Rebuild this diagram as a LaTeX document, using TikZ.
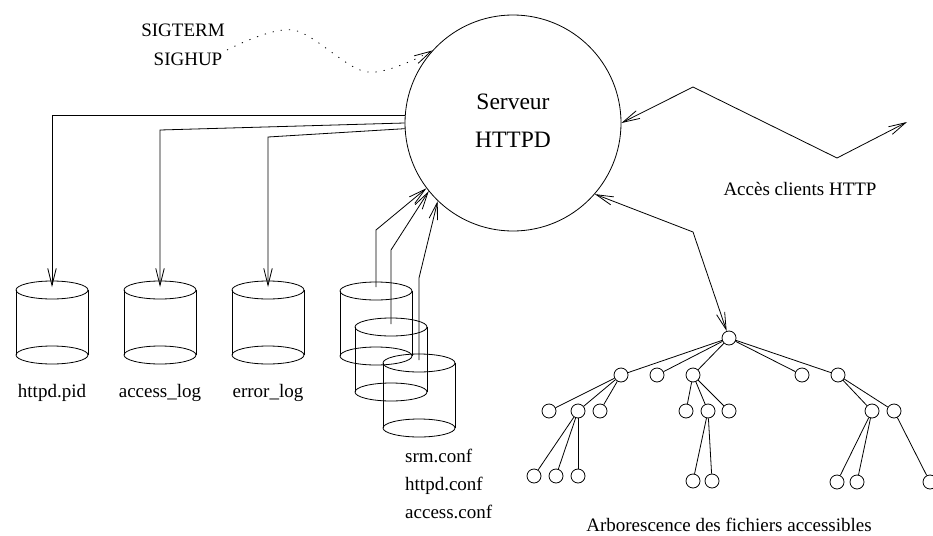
\documentclass[tikz,border=0pt]{standalone}
\usepackage{fontspec}
\setmainfont{Liberation Serif}
\usetikzlibrary{arrows.meta}
\newcommand\drawcyl[2]{%
  \draw[ln] (#1,#2) ellipse [x radius=36, y radius=9];
  \draw[ln] (#1,#2+65) ellipse [x radius=36, y radius=9];
  \draw[ln] (#1-36,#2) -- (#1-36,#2+65) (#1+36,#2) -- (#1+36,#2+65);
}
\begin{document}
\begin{tikzpicture}[x=1pt,y=-1pt,
  ln/.style={line width=0.8pt},
  tipv/.tip={Straight Barb[length=17pt,width=8.5pt,line width=0.8pt]},
  arr/.style={ln,-tipv},
  darr/.style={ln,tipv-tipv},
  lbl/.style={font=\fontsize{19}{22}\selectfont, inner sep=0pt, anchor=base},
  big/.style={font=\fontsize{23.5}{28}\selectfont, inner sep=0pt, anchor=base},
  leaf/.style={circle, draw, ln, minimum size=14pt, inner sep=0pt},
]
\useasboundingbox (0,0) rectangle (933,535);

% server
\node[circle, draw, ln, minimum size=216pt, inner sep=0pt] (srv) at (513,123) {};
\node[big] (srvt1) at (513,109) {Serveur};
\node[big] (srvt2) at (513,147) {HTTPD};

% signals
\node[lbl] (sigterm) at (183,37) {SIGTERM};
\node[lbl] (sighup) at (188,65) {SIGHUP};
\coordinate (sigstart) at (227,50);
\coordinate (sigtip) at (srv.138);
\draw[ln, dash pattern=on 1.2pt off 7pt, -tipv] plot[smooth, tension=0.55] coordinates {(sigstart) (293,30) (367,72) (sigtip)};

% log cylinders
\drawcyl{52}{290}
\drawcyl{160}{290}
\drawcyl{268}{290}
\coordinate (pidtop) at (52,287);
\coordinate (acctop) at (160,287);
\coordinate (errtop) at (268,287);
\coordinate (accbend) at (160,130);
\coordinate (errbend) at (268,137);
\draw[arr] (srv.176) -| (pidtop);
\draw[arr] (srv.180) -- (accbend) -- (acctop);
\draw[arr] (srv.183) -- (errbend) -- (errtop);
\node[lbl] (lpid) at (52,397) {httpd.pid};
\node[lbl] (lacc) at (160,397) {access\_log};
\node[lbl] (lerr) at (268,397) {error\_log};

% config cylinders
\drawcyl{376}{291}
\drawcyl{391}{327}
\drawcyl{419}{363}
\coordinate (cfga) at (376,287);
\coordinate (cfgb) at (391,324);
\coordinate (cfgc) at (419,360);
\coordinate (cfgab) at (376,230);
\coordinate (cfgbb) at (391,250);
\coordinate (cfgcb) at (419,278);
\draw[arr] (cfga) -- (cfgab) -- (srv.217);
\draw[arr] (cfgb) -- (cfgbb) -- (srv.219);
\draw[arr] (cfgc) -- (cfgcb) -- (srv.226);
\node[lbl, anchor=base west] (lsrm) at (405,462) {srm.conf};
\node[lbl, anchor=base west] (lhttpd) at (405,490) {httpd.conf};
\node[lbl, anchor=base west] (laccess) at (405,518) {access.conf};

% clients
\coordinate (cl1) at (693,87);
\coordinate (cl2) at (837,158);
\coordinate (cl3) at (907,122);
\draw[darr] (srv.0) -- (cl1) -- (cl2) -- (cl3);
\node[lbl] (lcl) at (800,195) {Accès clients HTTP};

% tree
\node[leaf] (root) at (729,338) {};
\node[leaf] (a) at (621,375) {};
\node[leaf] (b) at (657,375) {};
\node[leaf] (c) at (693,375) {};
\node[leaf] (d) at (802,375) {};
\node[leaf] (e) at (838,375) {};
\node[leaf] (a1) at (549,411) {};
\node[leaf] (a2) at (578,411) {};
\node[leaf] (a3) at (600,411) {};
\node[leaf] (c1) at (686,411) {};
\node[leaf] (c2) at (708,411) {};
\node[leaf] (c3) at (729,411) {};
\node[leaf] (e1) at (872,411) {};
\node[leaf] (e2) at (894,411) {};
\node[leaf] (a21) at (534,476) {};
\node[leaf] (a22) at (556,476) {};
\node[leaf] (a23) at (578,476) {};
\node[leaf] (c21) at (693,481) {};
\node[leaf] (c22) at (712,481) {};
\node[leaf] (e11) at (837,482) {};
\node[leaf] (e12) at (857,482) {};
\node[leaf] (e21) at (930,482) {};
\foreach \p/\q in {root/a,root/b,root/c,root/d,root/e,a/a1,a/a2,a/a3,c/c1,c/c2,c/c3,e/e1,e/e2,a2/a21,a2/a22,a2/a23,c2/c21,c2/c22,e1/e11,e1/e12,e2/e21}
  \draw[ln] (\p) -- (\q);
\coordinate (trbend) at (693,232);
\draw[darr] (srv.319) -- (trbend) -- (root);
\node[lbl] (ltree) at (729,531) {Arborescence des fichiers accessibles};
\end{tikzpicture}
\end{document}
